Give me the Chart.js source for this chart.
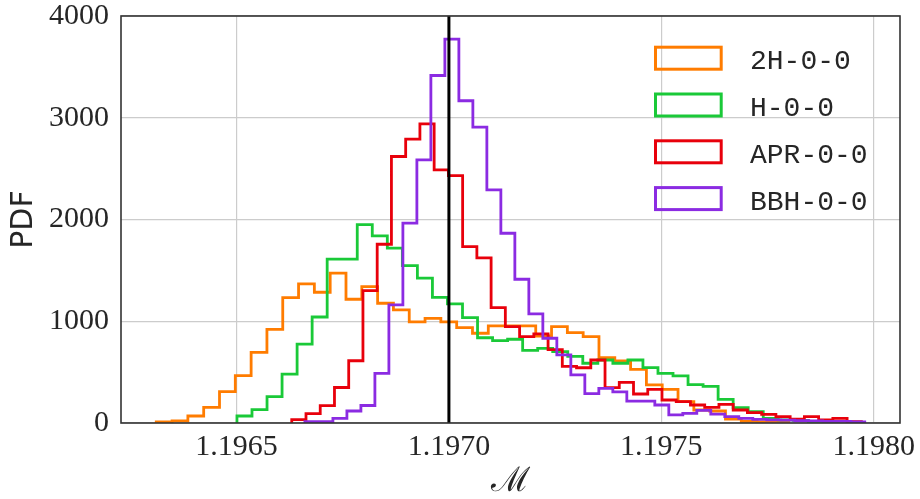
<!DOCTYPE html>
<html>
<head>
<meta charset="utf-8">
<script src="https://cdn.jsdelivr.net/npm/chart.js@4"></script>
<style>
  html, body { margin: 0; padding: 0; background: #fff; }
</style>
</head>
<body>
<canvas id="hist" width="920" height="499"></canvas>
<script>
// Series names and colours (seaborn "bright")
const names = ['2H-0-0', 'H-0-0', 'APR-0-0', 'BBH-0-0'];
const colors = ['#ff7c00', '#1ac938', '#e8000b', '#8b2be2'];

// Outer bin edges of each histogram (40 bins each)
const rangeLo = [1.196311, 1.196501, 1.196630, 1.196661];
const rangeHi = [1.197800, 1.197917, 1.197971, 1.197979];

// PDF values per bin
const pdf2H = [10, 20, 69, 154, 308, 465, 695, 921, 1232, 1367,
  1285, 1472, 1216, 1340, 1177, 1111, 993, 1029, 993, 937,
  882, 954, 954, 954, 855, 947, 888, 849, 642, 610,
  528, 374, 331, 210, 128, 118, 39, 15, 10, 5];
const pdfH = [69, 131, 259, 480, 776, 1042, 1610, 1610, 1950, 1839,
  1718, 1547, 1423, 1234, 1170, 1035, 838, 809, 823, 714,
  734, 701, 655, 587, 619, 587, 619, 544, 488, 464,
  377, 360, 233, 152, 111, 45, 30, 25, 15, 10];
const pdfAPR = [33, 92, 170, 349, 612, 1301, 1757, 2619, 2790, 2940,
  2488, 2432, 1734, 1622, 1133, 947, 849, 875, 722, 557,
  543, 619, 347, 400, 285, 331, 226, 210, 177, 154,
  184, 128, 101, 85, 62, 39, 62, 30, 46, 13];
const pdfBBH = [13, 13, 46, 118, 172, 488, 1160, 1964, 2586, 3415,
  3773, 3167, 2908, 2291, 1865, 1413, 1072, 833, 669, 472,
  288, 341, 305, 215, 215, 177, 79, 95, 124, 87,
  62, 46, 36, 30, 28, 22, 20, 15, 15, 12];
const pdfs = [pdf2H, pdfH, pdfAPR, pdfBBH];

// Injected value, axis ticks and limits
const trueChirp = 1.1970;
const xTicks = [1.1965, 1.1970, 1.1975, 1.1980];
const yTicks = [0, 1000, 2000, 3000, 4000];
const xMin = 1.196228, xMax = 1.198062;

// step outline: up at first edge, across each bin, down at last edge
function stepPoints(lo, hi, vals) {
  const w = (hi - lo) / vals.length;
  const pts = [{x: lo, y: 0}];
  vals.forEach((v, i) => pts.push({x: lo + i * w, y: v}));
  pts.push({x: hi, y: 0});
  return pts;
}

const datasets = names.map((name, i) => ({
  label: name,
  data: stepPoints(rangeLo[i], rangeHi[i], pdfs[i]),
  borderColor: colors[i],
  borderWidth: 2.8,
  stepped: true,
  fill: false,
  pointRadius: 0,
  order: names.length - i
}));
datasets.push({
  label: 'true',
  data: [{x: trueChirp, y: 0}, {x: trueChirp, y: 4000}],
  borderColor: '#000',
  borderWidth: 3,
  pointRadius: 0,
  order: 0
});

// frame round the plot area and the legend in the upper right
const framePlugin = {
  id: 'frame',
  afterDatasetsDraw(chart) {
    const {ctx, chartArea: a} = chart;
    ctx.save();
    ctx.strokeStyle = '#333';
    ctx.lineWidth = 1.6;
    ctx.strokeRect(a.left, a.top, a.right - a.left, a.bottom - a.top);

    ctx.lineWidth = 3;
    ctx.font = '28px "Liberation Mono"';
    ctx.fillStyle = '#262626';
    ctx.textBaseline = 'alphabetic';
    names.forEach((name, i) => {
      const cy = 58.2 + i * 46.8;
      ctx.strokeStyle = colors[i];
      ctx.strokeRect(655.5, cy - 11, 65.7, 22);
      ctx.fillText(name, 750, cy + 11);
    });
    ctx.restore();
  }
};

const ctx = document.getElementById('hist').getContext('2d');
const histChart = new Chart(ctx, {
  type: 'line',
  data: {datasets: datasets},
  options: {
    responsive: false,
    animation: false,
    layout: {padding: {left: 0, right: 20, top: 16, bottom: 0}},
    plugins: {legend: {display: false}, tooltip: {enabled: false}},
    scales: {
      x: {
        type: 'linear',
        min: xMin,
        max: xMax,
        afterFit(scale) {
          scale.height = 76;
          scale.paddingLeft = 0;
          scale.paddingRight = 0;
        },
        afterBuildTicks(scale) { scale.ticks = xTicks.map(v => ({value: v})); },
        grid: {color: '#cccccc', lineWidth: 1.2, drawTicks: false},
        border: {display: false},
        ticks: {
          padding: 6,
          color: '#262626',
          font: {family: '"Liberation Serif"', size: 30},
          maxRotation: 0,
          callback: v => v.toFixed(4)
        },
        title: {
          display: true,
          text: '\u2133',
          color: '#262626',
          font: {family: '"DejaVu Serif"', size: 34, lineHeight: 1},
          padding: {top: 0, bottom: 0}
        }
      },
      y: {
        min: 0,
        max: 4000,
        afterFit(scale) {
          scale.width = 121;
          scale.paddingTop = 0;
          scale.paddingBottom = 0;
        },
        afterBuildTicks(scale) { scale.ticks = yTicks.map(v => ({value: v})); },
        grid: {color: '#cccccc', lineWidth: 1.2, drawTicks: false},
        border: {display: false},
        ticks: {
          padding: 12,
          color: '#262626',
          font: {family: '"Liberation Serif"', size: 30},
          callback: v => String(v)
        },
        title: {
          display: true,
          text: 'PDF',
          color: '#262626',
          font: {family: '"DejaVu Sans"', size: 30, lineHeight: 1},
          padding: {top: 9, bottom: 0}
        }
      }
    }
  },
  plugins: [framePlugin]
});
</script>
</body>
</html>
